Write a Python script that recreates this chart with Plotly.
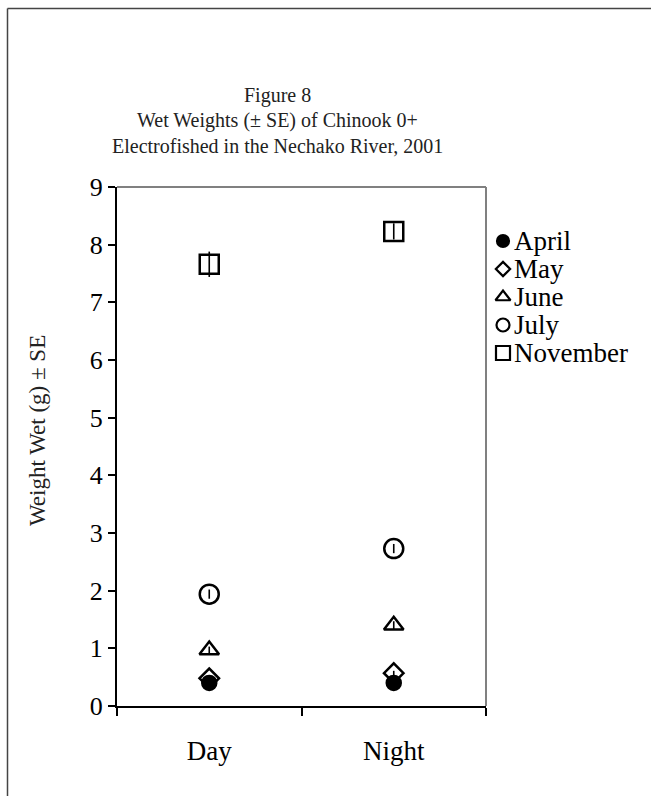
import plotly.graph_objects as go

categories = ["Day", "Night"]
months = ["April", "May", "June", "July", "November"]
weights = {
    "April":    [0.40, 0.40],
    "May":      [0.48, 0.57],
    "June":     [0.97, 1.40],
    "July":     [1.94, 2.73],
    "November": [7.66, 8.23],
}
se = {
    "April":    [0.02, 0.02],
    "May":      [0.03, 0.04],
    "June":     [0.06, 0.07],
    "July":     [0.08, 0.08],
    "November": [0.22, 0.14],
}
symbols = {
    "April": ("circle", 14),
    "May": ("diamond-open", 15),
    "June": ("triangle-up-open", 17),
    "July": ("circle-open", 19),
    "November": ("square-open", 19),
}
legend_symbols = {
    "April": ("circle", 12),
    "May": ("diamond-open", 11),
    "June": ("triangle-up-open", 13),
    "July": ("circle-open", 13),
    "November": ("square-open", 14),
}

W, H = 651, 796
L, R, T, B = 117, 486, 187, 706          # plot area in pixels
LEG_X, LEG_Y0, LEG_DY, LEG_TX = 503, 241, 28, 512

def fx(x):
    return x / W

def fy(y):
    return 1 - y / H

FONT = "Liberation Serif"

fig = go.Figure()
for m in months:
    sym, size = symbols[m]
    fig.add_trace(go.Scatter(
        x=categories, y=weights[m], name=m, mode="markers",
        marker=dict(symbol=sym, size=size, color="black",
                    line=dict(color="black", width=2.5)),
        error_y=dict(type="data", array=se[m], visible=True,
                     color="black", thickness=1.6, width=0),
        showlegend=False,
    ))

# manual legend (tight Excel-like spacing) drawn on a pixel-space overlay axis
annotations = []
for i, m in enumerate(months):
    sym, size = legend_symbols[m]
    yy = LEG_Y0 + i * LEG_DY
    fig.add_trace(go.Scatter(
        x=[LEG_X], y=[yy], mode="markers", xaxis="x2", yaxis="y2",
        marker=dict(symbol=sym, size=size, color="black",
                    line=dict(color="black", width=2.2)),
        showlegend=False, hoverinfo="skip", cliponaxis=False,
    ))
    annotations.append(dict(text=m, xref="paper", yref="paper",
                            x=fx(LEG_TX), y=fy(yy), xanchor="left",
                            yanchor="middle", showarrow=False,
                            font=dict(family=FONT, size=27, color="black")))

title_lines = ["Figure 8", "Wet Weights (± SE) of Chinook 0+",
               "Electrofished in the Nechako River, 2001"]
for i, t in enumerate(title_lines):
    annotations.append(dict(text=t, xref="paper", yref="paper",
                            x=fx(277), y=fy(96 + 25 * i), xanchor="center",
                            yanchor="middle", showarrow=False,
                            font=dict(family=FONT, size=20, color="#222222")))

annotations.append(dict(text="Weight Wet (g) ± SE", xref="paper", yref="paper",
                        x=fx(37), y=fy(431), xanchor="center", yanchor="middle",
                        textangle=-90, showarrow=False,
                        font=dict(family=FONT, size=23, color="#222222")))

shapes = [
    dict(type="line", xref="paper", yref="paper", x0=fx(L), x1=fx(R),
         y0=fy(T), y1=fy(T), line=dict(color="#808080", width=2)),
    dict(type="line", xref="paper", yref="paper", x0=fx(R), x1=fx(R),
         y0=fy(B), y1=fy(T), line=dict(color="#808080", width=2)),
    dict(type="line", xref="paper", yref="paper", x0=fx(7.5), x1=fx(7.5),
         y0=fy(8.5), y1=fy(800), line=dict(color="#444444", width=1.5)),
    dict(type="line", xref="paper", yref="paper", x0=fx(7.5), x1=fx(660),
         y0=fy(8.5), y1=fy(8.5), line=dict(color="#444444", width=1.5)),
]

fig.update_layout(
    template="none",
    width=W, height=H,
    margin=dict(l=0, r=0, t=0, b=0),
    paper_bgcolor="white", plot_bgcolor="rgba(0,0,0,0)",
    font=dict(family=FONT, color="black"),
    showlegend=False,
    shapes=shapes,
    annotations=annotations,
    xaxis=dict(domain=[fx(L), fx(R)], type="category", range=[-0.5, 1.5],
               tickson="boundaries", ticks="outside", ticklen=8, tickwidth=1.5,
               tickcolor="black", showline=True, linecolor="black", linewidth=2,
               showgrid=False, zeroline=False, ticklabelstandoff=20,
               automargin=False, tickfont=dict(family=FONT, size=27)),
    yaxis=dict(domain=[fy(B), fy(T)], range=[0, 9], dtick=1, tick0=0,
               ticks="outside", ticklen=7, tickwidth=1.5, tickcolor="black",
               showline=True, linecolor="black", linewidth=2, showgrid=False,
               zeroline=False, automargin=False,
               tickfont=dict(family=FONT, size=26)),
    xaxis2=dict(domain=[0, 1], range=[0, W], anchor="y2", visible=False,
                fixedrange=True),
    yaxis2=dict(domain=[0, 1], range=[H, 0], anchor="x2", visible=False,
                fixedrange=True),
)

fig.write_html("out.html")
